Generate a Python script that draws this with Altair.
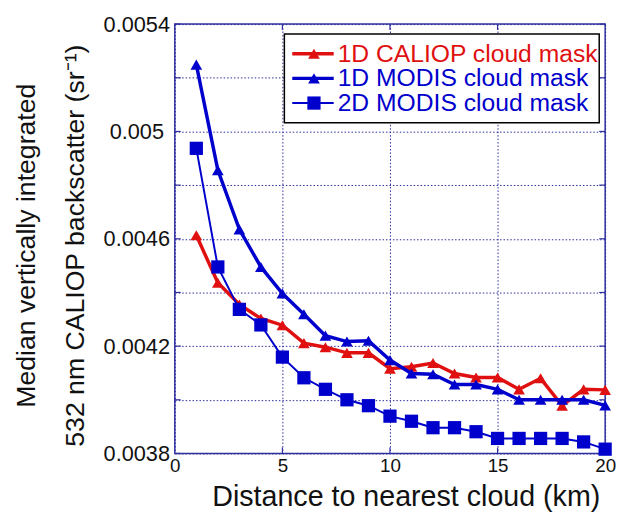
import altair as alt
import pandas as pd

# ---------------- data ----------------
distance_km = list(range(1, 21))
caliop_1d = [0.004613, 0.004436, 0.004355, 0.004303, 0.004278, 0.004211, 0.004196,
             0.004175, 0.004175, 0.004116, 0.004123, 0.004137, 0.004098, 0.004083,
             0.004083, 0.004039, 0.004080, 0.003978, 0.004039, 0.004037]
modis_1d = [0.005249, 0.004856, 0.004635, 0.004495, 0.004396, 0.004319, 0.004239,
            0.004217, 0.004220, 0.004148, 0.004098, 0.004095, 0.004057, 0.004057,
            0.004039, 0.004000, 0.004000, 0.004000, 0.004000, 0.003979]
modis_2d = [0.004937, 0.004495, 0.004337, 0.004279, 0.004159, 0.004082, 0.004039,
            0.004000, 0.003978, 0.003939, 0.003920, 0.003896, 0.003896, 0.003881,
            0.003856, 0.003856, 0.003856, 0.003856, 0.003843, 0.003816]
series_names = ["1D CALIOP cloud mask", "1D MODIS cloud mask", "2D MODIS cloud mask"]
x_ticks = [0, 5, 10, 15, 20]
y_ticks = [0.0038, 0.0040, 0.0042, 0.0044, 0.0046, 0.0048, 0.0050, 0.0052, 0.0054]
x_title = "Distance to nearest cloud (km)"
y_title = ["Median vertically integrated", "532 nm CALIOP backscatter (sr\u207b\u00b9)"]

# ---------------- style ----------------
RED = "#e01010"
BLUE = "#0000cc"
FRAME = "#3030a0"
GRID = "#2a2a9a"
TXT = "#111111"
FONT = "Liberation Sans"
W, H = 436, 435

xscale = alt.Scale(domain=[0, 20], nice=False, zero=False)
yscale = alt.Scale(domain=[0.0038, 0.0054], nice=False, zero=False)

x_axis = alt.Axis(values=x_ticks, grid=True, gridColor=GRID, gridDash=[1.5, 2], gridWidth=1,
                  ticks=False, tickSize=0, domain=False, labelFont=FONT, labelFontSize=19,
                  labelColor=TXT, labelPadding=3, labelFlush=False,
                  title=x_title, titleFont=FONT, titleFontSize=29, titleFontWeight="normal",
                  titleColor=TXT, titleX=234, titleY=53, titleBaseline="alphabetic",
                  titleAlign="center")
y_axis = alt.Axis(values=y_ticks, grid=True, gridColor=GRID, gridDash=[1.5, 2], gridWidth=1,
                  ticks=False, tickSize=0, domain=False, labelFont=FONT, labelFontSize=22,
                  labelColor=TXT, labelPadding=39, labelAlign="center", labelBaseline="middle",
                  labelFlush=False, labelOverlap=False, format=".4~f",
                  labelExpr="round(datum.value*10000) % 4 == 2 ? datum.label : ''",
                  title=y_title, titleFont=FONT, titleFontSize=27, titleFontWeight="normal",
                  titleColor=TXT, titleAngle=270, titleX=-150, titleY=224,
                  titleAlign="center", titleBaseline="middle", titleLineHeight=50)


def series_layers(values, name, color, shape, size, width):
    df = pd.DataFrame({"distance": distance_km, "value": values, "series": name})
    base = alt.Chart(df).encode(
        x=alt.X("distance:Q", scale=xscale, axis=x_axis),
        y=alt.Y("value:Q", scale=yscale, axis=y_axis),
    )
    line = base.mark_line(color=color, strokeWidth=width)
    pts = base.mark_point(shape=shape, filled=True, color=color, size=size, opacity=1)
    return [line, pts]


layers = []

# inner ticks on the frame
ydf = pd.DataFrame({"v": y_ticks})
xdf = pd.DataFrame({"d": x_ticks[1:-1]})
yenc = alt.Y("v:Q", scale=yscale, axis=y_axis)
xenc = alt.X("d:Q", scale=xscale, axis=x_axis)
layers.append(alt.Chart(ydf).mark_rule(color=FRAME, strokeWidth=1.2).encode(
    y=yenc, x=alt.value(0), x2=alt.value(6)))
layers.append(alt.Chart(ydf).mark_rule(color=FRAME, strokeWidth=1.2).encode(
    y=yenc, x=alt.value(W - 6), x2=alt.value(W)))
layers.append(alt.Chart(xdf).mark_rule(color=FRAME, strokeWidth=1.2).encode(
    x=xenc, y=alt.value(0), y2=alt.value(6)))
layers.append(alt.Chart(xdf).mark_rule(color=FRAME, strokeWidth=1.2).encode(
    x=xenc, y=alt.value(H - 6), y2=alt.value(H)))

layers += series_layers(caliop_1d, series_names[0], RED, "triangle-up", 140, 3.5)
layers += series_layers(modis_1d, series_names[1], BLUE, "triangle-up", 140, 3.5)
layers += series_layers(modis_2d, series_names[2], BLUE, "square", 180, 2)

# legend box
one = pd.DataFrame({"k": [0]})
layers.append(alt.Chart(one).mark_rect(fill="white", stroke="black", strokeWidth=1.5).encode(
    x=alt.value(111), x2=alt.value(430), y=alt.value(10), y2=alt.value(100)))

legend_rows = [
    (series_names[0], RED, "triangle-up", 140, 3.5, 30),
    (series_names[1], BLUE, "triangle-up", 140, 3.5, 55),
    (series_names[2], BLUE, "square", 180, 2, 80),
]
for label, color, shape, size, width, ry in legend_rows:
    ldf = pd.DataFrame({"label": [label]})
    layers.append(alt.Chart(ldf).mark_rule(color=color, strokeWidth=width).encode(
        x=alt.value(119), x2=alt.value(161), y=alt.value(ry)))
    layers.append(alt.Chart(ldf).mark_point(shape=shape, filled=True, color=color, size=size,
                                            opacity=1).encode(
        x=alt.value(141), y=alt.value(ry)))
    layers.append(alt.Chart(ldf).mark_text(align="left", baseline="middle", font=FONT,
                                           fontSize=25, color=color).encode(
        x=alt.value(165), y=alt.value(ry), text="label:N"))

chart = alt.layer(*layers).properties(
    width=W, height=H,
    padding={"left": 169, "top": 13, "right": 11, "bottom": 56},
    autosize=alt.AutoSizeParams(type="none"),
    background="white",
).configure_view(stroke=FRAME, strokeWidth=1.5)

chart.save("out.html", embed_options={"renderer": "svg", "actions": False})
